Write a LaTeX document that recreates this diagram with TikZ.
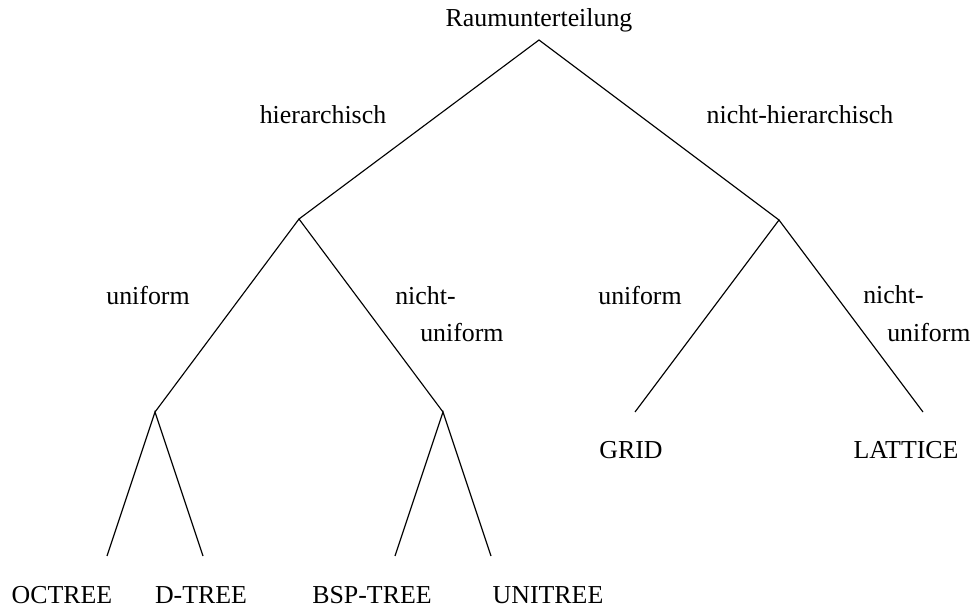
\documentclass[tikz,border=0pt]{standalone}
\usepackage{fontspec}
\setmainfont{Liberation Serif}
\begin{document}
\begin{tikzpicture}[x=0.75pt,y=-0.75pt,
  lbl/.style={anchor=base,inner sep=0pt,font=\fontsize{19.4}{26}\selectfont},
  edge/.style={draw=black,line width=0.85pt}]
\useasboundingbox (0,0) rectangle (975,609);

% branching points and line ends
\coordinate (root) at (539,40);
\coordinate (hier) at (299,219);
\coordinate (nhier) at (779,220);
\coordinate (hu) at (155,412);
\coordinate (hnu) at (443,412);
\coordinate (eOct) at (107,556);
\coordinate (eDt) at (203,556);
\coordinate (eBsp) at (395,556);
\coordinate (eUni) at (491,556);
\coordinate (eGrid) at (635,412);
\coordinate (eLat) at (923,412);

% tree edges
\draw[edge] (hier) -- (root) -- (nhier);
\draw[edge] (hu) -- (hier) -- (hnu);
\draw[edge] (eGrid) -- (nhier) -- (eLat);
\draw[edge] (eOct) -- (hu) -- (eDt);
\draw[edge] (eBsp) -- (hnu) -- (eUni);

% texts
\node[lbl] (tRoot) at (539,27) {Raumunterteilung};
\node[lbl] (tHier) at (323,124) {hierarchisch};
\node[lbl] (tNHier) at (800,124) {nicht-hierarchisch};
\node[lbl] (tU1) at (148,305) {uniform};
\node[lbl,anchor=base west] (tNU1a) at (395,305) {nicht-};
\node[lbl,anchor=base west] (tNU1b) at (420,342) {uniform};
\node[lbl] (tU2) at (640,305) {uniform};
\node[lbl,anchor=base west] (tNU2a) at (863,304) {nicht-};
\node[lbl,anchor=base west] (tNU2b) at (887,342) {uniform};
\node[lbl] (tOct) at (62,603) {OCTREE};
\node[lbl] (tDt) at (201,603) {D-TREE};
\node[lbl] (tBsp) at (372,603) {BSP-TREE};
\node[lbl] (tUni) at (548,603) {UNITREE};
\node[lbl] (tGrid) at (631,459) {GRID};
\node[lbl] (tLat) at (906,459) {LATTICE};
\end{tikzpicture}
\end{document}
